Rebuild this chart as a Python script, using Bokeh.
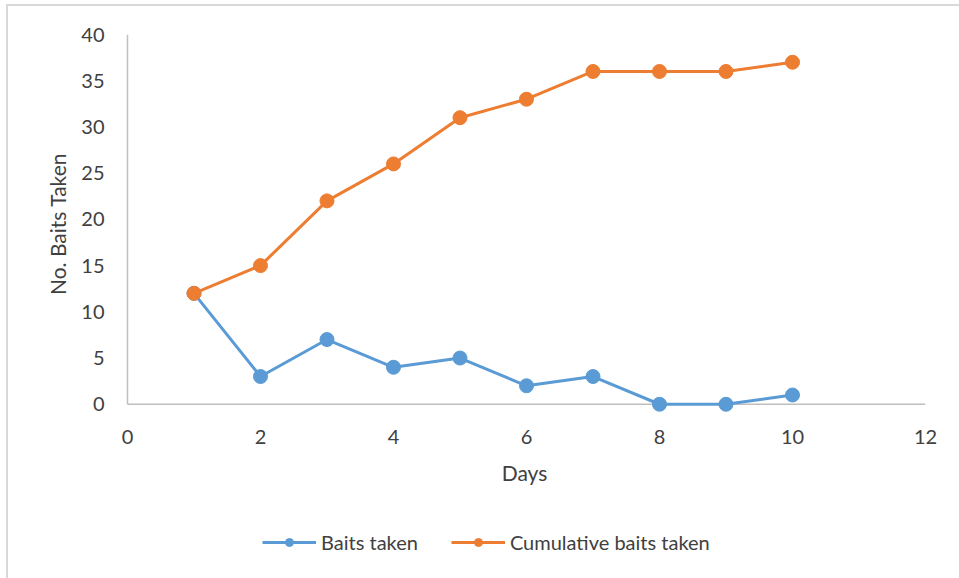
from bokeh.plotting import figure
from bokeh.layouts import column
from bokeh.models import Range1d, Legend, LegendItem, FixedTicker
from bokeh.embed import file_html
from bokeh.resources import INLINE

days = [1, 2, 3, 4, 5, 6, 7, 8, 9, 10]
baits_taken = [12, 3, 7, 4, 5, 2, 3, 0, 0, 1]
cumulative_baits = [12, 15, 22, 26, 31, 33, 36, 36, 36, 37]
x_ticks = [0, 2, 4, 6, 8, 10, 12]
y_ticks = [0, 5, 10, 15, 20, 25, 30, 35, 40]

FONT = "Lato"
TXT = "#404040"
BLUE = "#5B9BD5"
ORANGE = "#ED7D31"
AXC = "#bfbfbf"

p = figure(width=951, height=500, output_backend="svg", toolbar_location=None,
           x_range=Range1d(-0.06, 12), y_range=Range1d(-1, 40),
           min_border_left=115, min_border_right=34, min_border_top=28, min_border_bottom=93)
p.outline_line_color = None
p.xgrid.grid_line_color = None
p.ygrid.grid_line_color = None

for ax in (p.xaxis[0], p.yaxis[0]):
    ax.axis_line_color = None
    ax.major_tick_line_color = None
    ax.minor_tick_line_color = None
    ax.major_label_text_font = FONT
    ax.major_label_text_font_size = "20px"
    ax.major_label_text_color = TXT
    ax.axis_label_text_font = FONT
    ax.axis_label_text_font_size = "21px"
    ax.axis_label_text_color = TXT
    ax.axis_label_text_font_style = "normal"

p.xaxis.ticker = FixedTicker(ticks=x_ticks)
p.yaxis.ticker = FixedTicker(ticks=y_ticks)
p.xaxis.major_label_standoff = 10
p.yaxis.major_label_standoff = 13
p.xaxis.axis_label = "Days"
p.yaxis.axis_label = "No. Baits Taken"
p.xaxis.axis_label_standoff = 13
p.yaxis.axis_label_standoff = 8

# axis lines drawn at the zero positions
p.segment(x0=[x_ticks[0]], y0=[y_ticks[0]], x1=[x_ticks[-1]], y1=[y_ticks[0]], line_color=AXC, line_width=1.5)
p.segment(x0=[x_ticks[0]], y0=[y_ticks[0]], x1=[x_ticks[0]], y1=[y_ticks[-1]], line_color=AXC, line_width=1.5)

p.line(days, baits_taken, line_color=BLUE, line_width=3)
p.scatter(days, baits_taken, size=14, fill_color=BLUE, line_color=BLUE)
p.line(days, cumulative_baits, line_color=ORANGE, line_width=3)
p.scatter(days, cumulative_baits, size=14, fill_color=ORANGE, line_color=ORANGE)

# legend strip below the chart (its glyphs lie outside the visible range)
q = figure(width=951, height=72, output_backend="svg", toolbar_location=None,
           x_range=Range1d(100, 101), y_range=Range1d(0, 40),
           min_border_left=0, min_border_right=0, min_border_top=0, min_border_bottom=0)
q.axis.visible = False
q.grid.visible = False
q.outline_line_color = None
l1 = q.line(days, baits_taken, line_color=BLUE, line_width=3)
c1 = q.scatter(days, baits_taken, size=11, fill_color=BLUE, line_color=BLUE)
l2 = q.line(days, cumulative_baits, line_color=ORANGE, line_width=3)
c2 = q.scatter(days, cumulative_baits, size=11, fill_color=ORANGE, line_color=ORANGE)
legend = Legend(items=[LegendItem(label="Baits taken", renderers=[l1, c1]),
                       LegendItem(label="Cumulative baits taken", renderers=[l2, c2])],
                location=(139, 24), orientation="horizontal",
                glyph_width=54, glyph_height=20, label_standoff=5, spacing=33,
                padding=0, margin=0, border_line_color=None, background_fill_alpha=0,
                label_text_font=FONT, label_text_font_size="20px", label_text_color=TXT)
q.add_layout(legend, "center")

layout = column(p, q, spacing=0,
                styles={"margin-left": "6px", "margin-top": "4px",
                        "border-left": "2px solid #d9d9d9", "border-top": "2px solid #d9d9d9"})

open("out.html", "w").write(file_html(layout, INLINE))
